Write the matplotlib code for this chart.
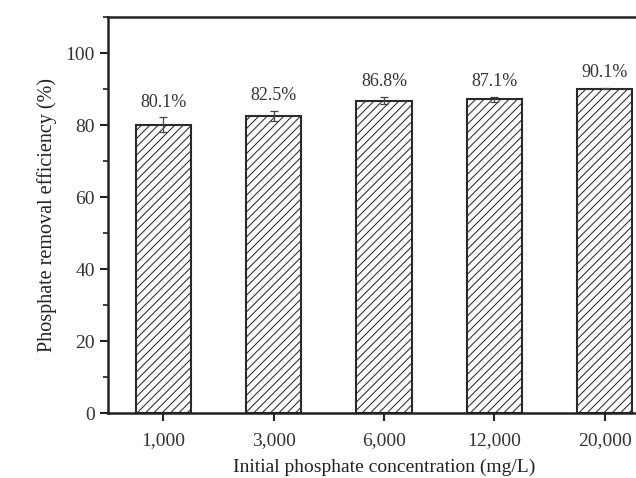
import matplotlib
matplotlib.use("Agg")
import matplotlib.pyplot as plt
from matplotlib.ticker import MultipleLocator

plt.rcParams['font.family'] = ['Liberation Serif', 'DejaVu Serif']
plt.rcParams['hatch.color'] = '#9a9a9a'
plt.rcParams['hatch.linewidth'] = 0.75

categories = ["1,000", "3,000", "6,000", "12,000", "20,000"]
efficiency = [80.1, 82.5, 86.8, 87.1, 90.1]
errors = [2.0, 1.5, 1.0, 0.7, 0.2]
labels = ["80.1%", "82.5%", "86.8%", "87.1%", "90.1%"]

fig = plt.figure(figsize=(6.36, 4.78), dpi=100)
ax = fig.add_axes([108/636, 1 - 413/478, (660 - 108)/636, (413 - 17)/478])

x = list(range(1, len(categories) + 1))
ax.bar(x, efficiency, width=0.5, facecolor='white', edgecolor='#2a2a2a',
       linewidth=1.5, hatch='////', zorder=2)
ax.errorbar(x, efficiency, yerr=errors, fmt='none', ecolor='#444444',
            elinewidth=0.9, capsize=3, capthick=0.9, zorder=3)

for xi, v, e, lab in zip(x, efficiency, errors, labels):
    ax.text(xi, v + e + 4.2, lab, ha='center', va='center', fontsize=13, color='#333333')

ax.set_xlim(0.5, 5.5)
ax.set_ylim(0, 110)
ax.set_xticks(x)
ax.set_xticklabels(categories, fontsize=14)
ax.yaxis.set_major_locator(MultipleLocator(20))
ax.yaxis.set_minor_locator(MultipleLocator(10))
ax.set_yticks([0, 20, 40, 60, 80, 100])
ax.tick_params(axis='both', which='major', direction='out', length=6, width=1.5,
               labelsize=14, colors='#222222', labelcolor='#333333')
ax.tick_params(axis='x', which='major', pad=8)
ax.tick_params(axis='y', which='minor', direction='out', length=3.5, width=1.2, colors='#222222')
for s in ax.spines.values():
    s.set_linewidth(1.8)
    s.set_color('#222222')

ax.set_xlabel("Initial phosphate concentration (mg/L)", fontsize=14, labelpad=7, color='#222222')
ax.set_ylabel("Phosphate removal efficiency (%)", fontsize=14.5, labelpad=6, color='#222222')

fig.savefig("out.png", dpi=100)
